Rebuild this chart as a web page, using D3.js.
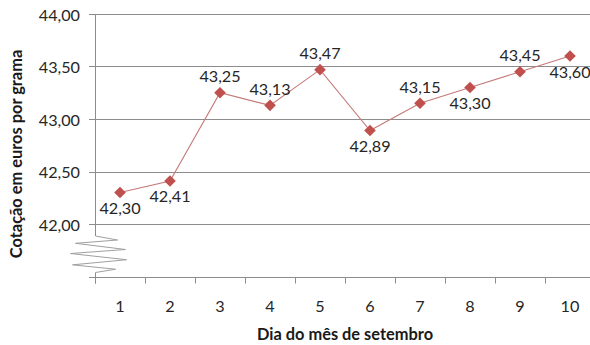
<!DOCTYPE html>
<html><head><meta charset="utf-8">
<script src="https://cdn.jsdelivr.net/npm/d3@7"></script>
<style>
html,body{margin:0;padding:0;background:#fff;}
svg{display:block;font-family:Lato,"Open Sans",sans-serif;}
</style></head>
<body>
<svg id="c" width="590" height="345"></svg>
<script>
const days = [1,2,3,4,5,6,7,8,9,10];
const prices = [42.30,42.41,43.25,43.13,43.47,42.89,43.15,43.30,43.45,43.60];
const priceLabels = ["42,30","42,41","43,25","43,13","43,47","42,89","43,15","43,30","43,45","43,60"];
const yTicks = [42.0,42.5,43.0,43.5,44.0];
const yTickLabels = ["42,00","42,50","43,00","43,50","44,00"];
const xTitle = "Dia do mês de setembro";
const yTitle = "Cotação em euros por grama";

(function(){
const svg = d3.select("#c");
const mLeft = 95, mRight = 595, mTop = 14, mBottom = 276.5;
const x = d3.scaleBand().domain(days).range([mLeft, mRight]);
const y = d3.scaleLinear().domain([41.5, 44]).range([mBottom, mTop]);
const gridCol = "#8c8c8c";
const red = "#c0504d";
const txtCol = "#262626";
const fs = 16.2;

// gridlines
svg.append("g").selectAll("line").data(yTicks).join("line")
  .attr("x1", mLeft - 6).attr("x2", 590)
  .attr("y1", d => Math.round(y(d)) + 0.5).attr("y2", d => Math.round(y(d)) + 0.5)
  .attr("stroke", gridCol).attr("stroke-width", 1);

// y tick labels
svg.append("g").selectAll("text").data(yTicks).join("text")
  .attr("x", mLeft - 15).attr("y", d => y(d))
  .attr("text-anchor", "end").attr("dominant-baseline", "central")
  .attr("font-size", fs).attr("fill", txtCol)
  .text((d, i) => yTickLabels[i]);

// x axis
const xAxisY = Math.round(y(41.5)) + 0.5;
svg.append("line").attr("x1", mLeft - 6).attr("x2", 590)
  .attr("y1", xAxisY).attr("y2", xAxisY).attr("stroke", gridCol);
const tickXs = days.map(d => x(d)).concat([x(days[days.length-1]) + x.bandwidth()]);
svg.append("g").selectAll("line").data(tickXs).join("line")
  .attr("x1", d => Math.round(d) + 0.5).attr("x2", d => Math.round(d) + 0.5)
  .attr("y1", xAxisY).attr("y2", xAxisY + 6).attr("stroke", gridCol);
svg.append("g").selectAll("text").data(days).join("text")
  .attr("x", d => x(d) + x.bandwidth()/2).attr("y", 305)
  .attr("text-anchor", "middle").attr("dominant-baseline", "central")
  .attr("font-size", fs).attr("fill", txtCol)
  .text(d => d);

// y axis with break
const ax = mLeft + 0.5;
const yBreakTop = y(42) + 12, yBreakBot = xAxisY - 5;
svg.append("line").attr("x1", ax).attr("x2", ax)
  .attr("y1", y(44)).attr("y2", yBreakTop).attr("stroke", gridCol);
svg.append("line").attr("x1", ax).attr("x2", ax)
  .attr("y1", yBreakBot).attr("y2", xAxisY + 6).attr("stroke", gridCol);
const zz = [[0,0],[22,0.11],[-20,0.2],[30,0.37],[-25,0.48],[31,0.65],[-23,0.79],[20,0.91],[0,1]];
svg.append("path")
  .attr("d", d3.line()(zz.map(p => [ax + p[0], yBreakTop + p[1]*(yBreakBot - yBreakTop)])))
  .attr("fill", "none").attr("stroke", "#a0a0a0").attr("stroke-width", 1);

// series line
svg.append("path")
  .attr("d", d3.line().x((d,i) => x(days[i]) + x.bandwidth()/2).y(d => y(d))(prices))
  .attr("fill", "none").attr("stroke", "#c47a78").attr("stroke-width", 1.1);

// markers
svg.append("g").selectAll("path").data(prices).join("path")
  .attr("transform", (d,i) => `translate(${x(days[i]) + x.bandwidth()/2},${y(d)}) rotate(45)`)
  .attr("d", "M-4.1,-4.1H4.1V4.1H-4.1Z").attr("fill", red);

// data labels
const below = [true,true,false,false,false,true,false,true,false,true];
svg.append("g").selectAll("text").data(prices).join("text")
  .attr("x", (d,i) => x(days[i]) + x.bandwidth()/2)
  .attr("y", (d,i) => y(d) + (below[i] ? 15 : -17))
  .attr("text-anchor", "middle").attr("dominant-baseline", "central")
  .attr("font-size", fs).attr("fill", txtCol)
  .text((d,i) => priceLabels[i]);

// titles
svg.append("text").attr("x", (mLeft + mRight)/2).attr("y", 340)
  .attr("text-anchor", "middle")
  .attr("font-size", 16.4).attr("font-weight", "bold").attr("fill", "#1a1a1a")
  .text(xTitle);
svg.append("text").attr("transform", "translate(22,154) rotate(-90)")
  .attr("text-anchor", "middle")
  .attr("font-size", 16.4).attr("font-weight", "bold").attr("fill", "#1a1a1a")
  .text(yTitle);
})();
</script>
</body></html>
